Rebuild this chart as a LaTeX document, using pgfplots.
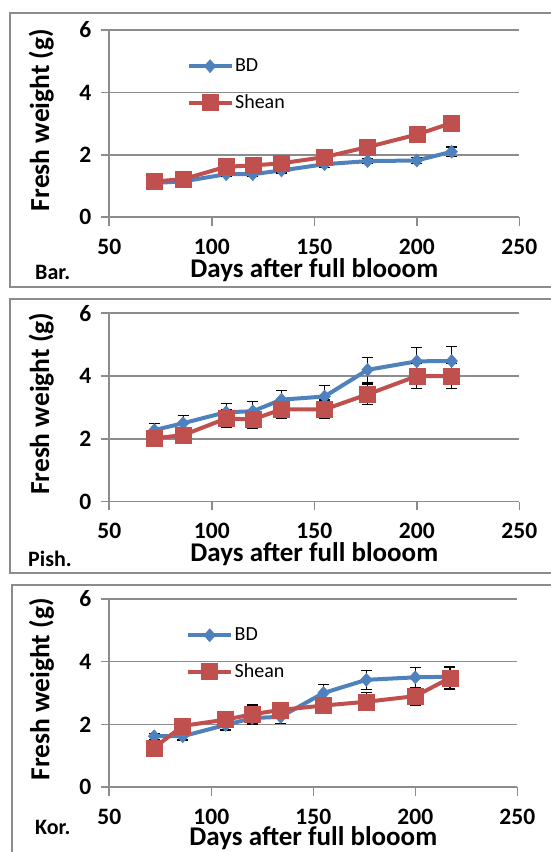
\documentclass[border=0pt]{standalone}
\usepackage{fontspec}
\setmainfont{Carlito}
\usepackage{pgfplots}
\usepackage{pgfplotstable}
\pgfplotsset{compat=1.18}
\definecolor{bdblue}{HTML}{4F81BD}
\definecolor{shred}{HTML}{C0504D}
\definecolor{gridgray}{HTML}{8C8C8C}
\definecolor{boxgray}{HTML}{8C8C8C}

\pgfplotstableread{
x y e
72 1.10 0.05
86 1.15 0.05
107 1.38 0.08
120 1.38 0.08
134 1.50 0.08
155 1.70 0.10
176 1.80 0.08
200 1.82 0.10
217 2.10 0.15
}\barBD
\pgfplotstableread{
x y e
72 1.15 0.05
86 1.22 0.05
107 1.62 0.08
120 1.66 0.08
134 1.73 0.08
155 1.93 0.08
176 2.25 0.08
200 2.65 0.10
217 3.02 0.25
}\barSH
\pgfplotstableread{
x y e
72 2.28 0.22
86 2.50 0.25
107 2.85 0.28
120 2.88 0.30
134 3.25 0.30
155 3.35 0.35
176 4.20 0.40
200 4.47 0.45
217 4.48 0.45
}\pishBD
\pgfplotstableread{
x y e
72 2.02 0.25
86 2.12 0.25
107 2.65 0.27
120 2.62 0.28
134 2.94 0.30
155 2.94 0.30
176 3.42 0.33
200 4.00 0.40
217 4.00 0.40
}\pishSH
\pgfplotstableread{
x y e
72 1.62 0.10
86 1.62 0.12
107 1.98 0.16
120 2.20 0.20
134 2.24 0.21
155 3.00 0.27
176 3.42 0.30
200 3.50 0.32
217 3.52 0.32
}\korBD
\pgfplotstableread{
x y e
72 1.25 0.10
86 1.95 0.10
107 2.15 0.12
120 2.32 0.30
134 2.46 0.15
155 2.60 0.15
176 2.72 0.29
200 2.90 0.28
217 3.48 0.35
}\korSH

\pgfplotsset{
  panel/.style={
    scale only axis, width=410pt, height=187.3pt,
    xmin=50, xmax=250, ymin=0, ymax=6,
    xtick={50,100,...,250}, ytick={0,2,4,6},
    axis x line=bottom, axis y line=left,
    axis line style={-, draw=gridgray, line width=1.6pt},
    ymajorgrids, grid style={draw=gridgray, line width=1.6pt},
    tick align=outside, major tick length=8.6pt,
    tick style={draw=gridgray, line width=1.6pt},
    /pgf/number format/assume math mode=true,
    ticklabel style={font=\fontsize{23.5}{25}\selectfont\bfseries},
    yticklabel style={xshift=-6pt},
    xticklabel style={inner sep=0pt, yshift=-13pt},
    xlabel={Days after full blooom},
    ylabel={Fresh weight (g)},
    xlabel style={inner sep=0pt, at={(axis description cs:0.5,-0.32)}, anchor=base, font=\fontsize{27}{29}\selectfont\bfseries},
    ylabel style={inner sep=0pt, at={(axis description cs:-0.1466,0.52)}, anchor=base, font=\fontsize{27.5}{29}\selectfont\bfseries},
    legend image code/.code={\draw[mark repeat=2,mark phase=2,##1] plot coordinates {(0pt,0pt) (21.5pt,0pt) (43pt,0pt)};},
    legend style={draw=none, fill=none, font=\fontsize{20}{21}\selectfont, legend cell align=left,
      at={(axis description cs:0.188,0.857)}, anchor=north west, row sep=17.5pt, inner sep=0pt,
      nodes={inner xsep=1.5pt}},
  },
  bd/.style={draw=bdblue, line width=4pt, mark=diamond*, mark size=6.5pt,
    mark options={fill=bdblue, draw=bdblue, line width=0.5pt, xscale=1.2},
    error bars/.cd, y dir=both, y explicit,
    error bar style={black, line width=1.2pt},
    error mark options={rotate=90, mark size=5.5pt, black, line width=1.2pt}},
  sh/.style={draw=shred, line width=4pt, mark=square*, mark size=8pt,
    mark options={fill=shred, draw=shred, line width=0.5pt},
    error bars/.cd, y dir=both, y explicit,
    error bar style={black, line width=1.2pt},
    error mark options={rotate=90, mark size=5.5pt, black, line width=1.2pt}},
}

\begin{document}
\begin{tikzpicture}[x=1pt,y=1pt]
\useasboundingbox (0,0) rectangle (551,852);
\clip (0,0) rectangle (551,852);
\draw[boxgray, line width=2pt] (9.5,838.7) rectangle (600,565);
\draw[boxgray, line width=2pt] (9.5,553) rectangle (600,279.3);
\draw[boxgray, line width=2pt] (12.3,267) rectangle (600,-20);

\begin{axis}[panel, at={(109.3pt,634.7pt)}, anchor=south west]
\addplot[bd] table[x=x, y=y, y error=e] {\barBD};
\addlegendentry{BD}
\addplot[sh] table[x=x, y=y, y error=e] {\barSH};
\addlegendentry{Shean}
\end{axis}

\begin{axis}[panel, height=188.4pt, at={(109.3pt,350.3pt)}, anchor=south west]
\addplot[bd] table[x=x, y=y, y error=e] {\pishBD};
\addplot[sh] table[x=x, y=y, y error=e] {\pishSH};
\end{axis}

\begin{axis}[panel, width=408pt, height=188pt, at={(109.3pt,65pt)}, anchor=south west,
  xlabel style={at={(axis description cs:0.5,-0.313)}}]
\addplot[bd] table[x=x, y=y, y error=e] {\korBD};
\addlegendentry{BD}
\addplot[sh] table[x=x, y=y, y error=e] {\korSH};
\addlegendentry{Shean}
\end{axis}

\node[anchor=base west, font=\fontsize{22}{24}\selectfont\bfseries, inner sep=0pt] at (35,572) {Bar.};
\node[anchor=base west, font=\fontsize{22}{24}\selectfont\bfseries, inner sep=0pt] at (28,285) {Pish.};
\node[anchor=base west, font=\fontsize{22}{24}\selectfont\bfseries, inner sep=0pt] at (35,17) {Kor.};
\end{tikzpicture}
\end{document}
